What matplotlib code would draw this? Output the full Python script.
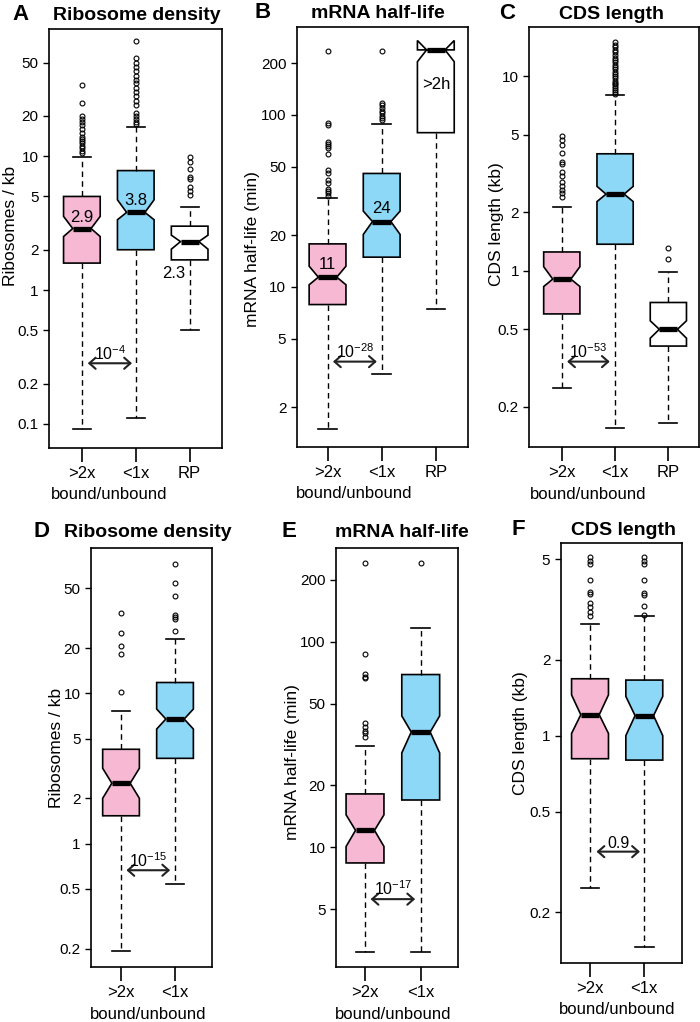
import matplotlib
matplotlib.use("Agg")
import matplotlib.pyplot as plt

plt.rcParams['font.family'] = ['Liberation Sans', 'DejaVu Sans']

PINK = "#f6b8d3"
BLUE = "#8dd7f7"
W, H = 700, 1022

# ---- data ----
# A: ribosome density (>2x, <1x, RP)
a_med = [2.88, 3.8, 2.3]
a_q1 = [1.59, 2.0, 1.68]
a_q3 = [5.0, 7.8, 3.0]
a_lo = [0.091, 0.111, 0.5]
a_hi = [9.8, 16.6, 4.2]
a_cilo = [2.51, 3.35, 2.02]
a_cihi = [3.55, 4.72, 2.57]
a_out = [[10.5, 11, 11.5, 12, 12.5, 13, 13.5, 14, 15, 16, 17, 18, 19, 20, 25, 34],
         [17.5, 18, 19, 20, 21, 24, 26, 28, 30, 32, 35, 37, 40, 43, 46, 50, 54, 72],
         [5.1, 5.5, 5.9, 6.7, 7.0, 8.0, 9.1, 9.8]]

# B: mRNA half-life, min
b_med = [11.4, 24, 239]
b_q1 = [7.9, 14.9, 78.9]
b_q3 = [17.8, 45.7, 239]
b_lo = [1.5, 3.1, 7.4]
b_hi = [32.7, 88.3, 239]
b_cilo = [10.3, 20.2, 204]
b_cihi = [13.2, 27.6, 271]
b_out = [[34, 35, 36, 37, 40, 42, 46, 48, 59, 64, 66, 68, 70, 87, 90, 237],
         [93, 96, 98, 102, 105, 110, 115, 118, 237],
         []]

# C: CDS length, kb
c_med = [0.906, 2.48, 0.5]
c_q1 = [0.60, 1.37, 0.41]
c_q3 = [1.25, 4.0, 0.687]
c_lo = [0.25, 0.155, 0.165]
c_hi = [2.14, 7.98, 0.99]
c_cilo = [0.83, 2.27, 0.45]
c_cihi = [1.05, 2.72, 0.553]
c_out = [[2.41, 2.5, 2.59, 2.72, 2.88, 3.06, 3.24, 3.55, 3.63, 4.03, 4.42, 4.72, 4.95],
         [8.1, 8.3, 8.5, 8.7, 8.9, 9.1, 9.3, 9.5, 9.8, 10.0, 10.3, 10.6, 10.9, 11.2,
          11.5, 11.8, 12.1, 12.5, 12.9, 13.3, 13.7, 14.1, 14.5, 15.0],
         [1.15, 1.31]]

# D: ribosome density (>2x, <1x)
d_med = [2.52, 6.74]
d_q1 = [1.53, 3.69]
d_q3 = [4.24, 11.8]
d_lo = [0.193, 0.54]
d_hi = [7.66, 22.9]
d_cilo = [2.0, 5.78]
d_cihi = [3.17, 7.86]
d_out = [[10.2, 18.2, 20.8, 25.3, 34],
         [26.1, 31, 32, 33.2, 44.3, 54, 72.5]]

# E: mRNA half-life, min
e_med = [12.1, 36.4]
e_q1 = [8.4, 17.0]
e_q3 = [18.2, 69.3]
e_lo = [3.1, 3.1]
e_hi = [31, 117]
e_cilo = [10.1, 28.8]
e_cihi = [14.4, 43.6]
e_out = [[34.6, 35.9, 37, 38.6, 40.1, 66.5, 67.6, 69.6, 87.1, 241],
         [241]]

# F: CDS length, kb
f_med = [1.21, 1.2]
f_q1 = [0.81, 0.80]
f_q3 = [1.68, 1.66]
f_lo = [0.249, 0.146]
f_hi = [2.77, 2.97]
f_cilo = [1.02, 1.0]
f_cihi = [1.45, 1.43]
f_out = [[2.99, 3.09, 3.23, 3.35, 3.65, 3.69, 4.15, 4.8, 4.93, 5.09],
         [3.0, 3.27, 3.6, 3.67, 4.15, 4.8, 4.93, 5.09]]

groups3 = [">2x", "<1x", "RP"]
groups2 = [">2x", "<1x"]
pvals = [r"$\mathregular{10^{-4}}$", r"$\mathregular{10^{-28}}$", r"$\mathregular{10^{-53}}$",
         r"$\mathregular{10^{-15}}$", r"$\mathregular{10^{-17}}$", "0.9"]


def make_stats(med, q1, q3, lo, hi, cilo, cihi, out):
    stats = []
    for i in range(len(med)):
        stats.append(dict(med=med[i], q1=q1[i], q3=q3[i], whislo=lo[i], whishi=hi[i],
                          cilo=cilo[i], cihi=cihi[i], fliers=out[i]))
    return stats


def draw_panel(ax, stats, colors, labels, xlim, ylim, yticks, ylabel, ylab_pos, pval, parrow):
    bp = ax.bxp(stats, positions=list(range(1, len(stats) + 1)), widths=0.68,
                shownotches=True, patch_artist=True,
                boxprops=dict(edgecolor="black", linewidth=1.2),
                whiskerprops=dict(color="black", linewidth=1.0, linestyle=(0, (4, 3))),
                capprops=dict(color="black", linewidth=1.2),
                medianprops=dict(color="black", linewidth=3.8, solid_capstyle="butt"),
                flierprops=dict(marker="o", markerfacecolor="none", markeredgecolor="black",
                                markersize=3.5, markeredgewidth=0.8))
    for patch, c in zip(bp["boxes"], colors):
        patch.set_facecolor(c)

    ax.set_yscale("log")
    ax.set_ylim(ylim)
    ax.set_xlim(xlim)
    ax.set_yticks(yticks)
    ax.set_yticklabels(["%g" % t for t in yticks])
    ax.yaxis.set_minor_locator(matplotlib.ticker.NullLocator())
    ax.set_xticks(list(range(1, len(labels) + 1)))
    ax.set_xticklabels(labels, fontsize=12)
    ax.tick_params(axis="x", length=10, width=1.2, pad=3)
    ax.tick_params(axis="y", length=4.5, width=1.0, pad=3, labelsize=11)
    for s in ax.spines.values():
        s.set_linewidth(1.2)

    ax.set_ylabel(ylabel, fontsize=12.5, va="center")
    ax.yaxis.set_label_coords(*ylab_pos)
    ax.text(1.5, -0.112, "bound/unbound", transform=ax.get_xaxis_transform(),
            ha="center", va="center", fontsize=12)

    # significance arrow between the first two groups
    x0, x1, y = parrow
    ax.annotate("", xy=(x0, y), xytext=(x1, y),
                arrowprops=dict(arrowstyle="<->,head_length=0.45,head_width=0.4",
                                lw=1.5, color="#222222", shrinkA=0, shrinkB=0,
                                mutation_scale=10))
    ax.annotate(pval, xy=((x0 + x1) / 2, y), xytext=(0, 0.5), textcoords="offset points",
                ha="center", va="bottom", fontsize=11.5)


def fig_rect(x0, y0, x1, y1):
    return [x0 / W, 1 - y1 / H, (x1 - x0) / W, (y1 - y0) / H]


def heading(letter, title, lx, tx, y):
    fig.text(lx / W, 1 - y / H, letter, fontsize=16, fontweight="bold", ha="center", va="baseline")
    fig.text(tx / W, 1 - y / H, title, fontsize=14, fontweight="bold", ha="center", va="baseline")


fig = plt.figure(figsize=(7, 10.22), dpi=100)

# A
ax = fig.add_axes(fig_rect(49, 29, 222, 447.7))
draw_panel(ax, make_stats(a_med, a_q1, a_q3, a_lo, a_hi, a_cilo, a_cihi, a_out),
           [PINK, BLUE, "white"], groups3, (0.39, 3.6), (0.0665, 89),
           [0.1, 0.2, 0.5, 1, 2, 5, 10, 20, 50], "Ribosomes / kb", (-0.225, 0.53),
           pvals[0], (1.11, 1.93, 0.284))
ax.text(1, 3.47, "2.9", ha="center", va="center", fontsize=12)
ax.text(2, 4.67, "3.8", ha="center", va="center", fontsize=12)
ax.text(2.7, 1.32, "2.3", ha="center", va="center", fontsize=12)
heading("A", "Ribosome density", 20.7, 137, 20.5)

# B
ax = fig.add_axes(fig_rect(296.7, 26.7, 468.3, 446.7))
draw_panel(ax, make_stats(b_med, b_q1, b_q3, b_lo, b_hi, b_cilo, b_cihi, b_out),
           [PINK, BLUE, "white"], groups3, (0.43, 3.6), (1.178, 326),
           [2, 5, 10, 20, 50, 100, 200], "mRNA half-life (min)", (-0.255, 0.47),
           pvals[1], (1.1, 1.91, 3.68))
ax.text(1, 13.5, "11", ha="center", va="center", fontsize=12)
ax.text(2, 28.5, "24", ha="center", va="center", fontsize=12)
ax.text(3, 150, ">2h", ha="center", va="center", fontsize=12)
heading("B", "mRNA half-life", 262.3, 377.7, 18.5)

# C
ax = fig.add_axes(fig_rect(529.3, 27.3, 699, 447))
draw_panel(ax, make_stats(c_med, c_q1, c_q3, c_lo, c_hi, c_cilo, c_cihi, c_out),
           [PINK, BLUE, "white"], groups3, (0.39, 3.575), (0.124, 17.9),
           [0.2, 0.5, 1, 2, 5, 10], "CDS length (kb)", (-0.191, 0.53),
           pvals[2], (1.1, 1.9, 0.341))
heading("C", "CDS length", 506.7, 611.7, 19)

# D
ax = fig.add_axes(fig_rect(91, 548.3, 212, 967.3))
draw_panel(ax, make_stats(d_med, d_q1, d_q3, d_lo, d_hi, d_cilo, d_cihi, d_out),
           [PINK, BLUE], groups2, (0.444, 2.685), (0.150, 92.3),
           [0.2, 0.5, 1, 2, 5, 10, 20, 50], "Ribosomes / kb", (-0.281, 0.523),
           pvals[3], (1.1, 1.91, 0.664))
heading("D", "Ribosome density", 41.7, 147.7, 536.7)

# E
ax = fig.add_axes(fig_rect(336, 548.3, 457.7, 967.3))
draw_panel(ax, make_stats(e_med, e_q1, e_q3, e_lo, e_hi, e_cilo, e_cihi, e_out),
           [PINK, BLUE], groups2, (0.479, 2.664), (2.61, 285),
           [5, 10, 20, 50, 100, 200], "mRNA half-life (min)", (-0.36, 0.49),
           pvals[4], (1.1, 1.9, 5.6))
heading("E", "mRNA half-life", 289, 401.7, 537)

# F
ax = fig.add_axes(fig_rect(560.7, 543.3, 681.7, 962.7))
draw_panel(ax, make_stats(f_med, f_q1, f_q3, f_lo, f_hi, f_cilo, f_cihi, f_out),
           [PINK, BLUE], groups2, (0.46, 2.689), (0.126, 5.78),
           [0.2, 0.5, 1, 2, 5], "CDS length (kb)", (-0.336, 0.548),
           pvals[5], (1.12, 1.92, 0.347))
heading("F", "CDS length", 518, 623.3, 535)

fig.savefig("out.png", dpi=100)
